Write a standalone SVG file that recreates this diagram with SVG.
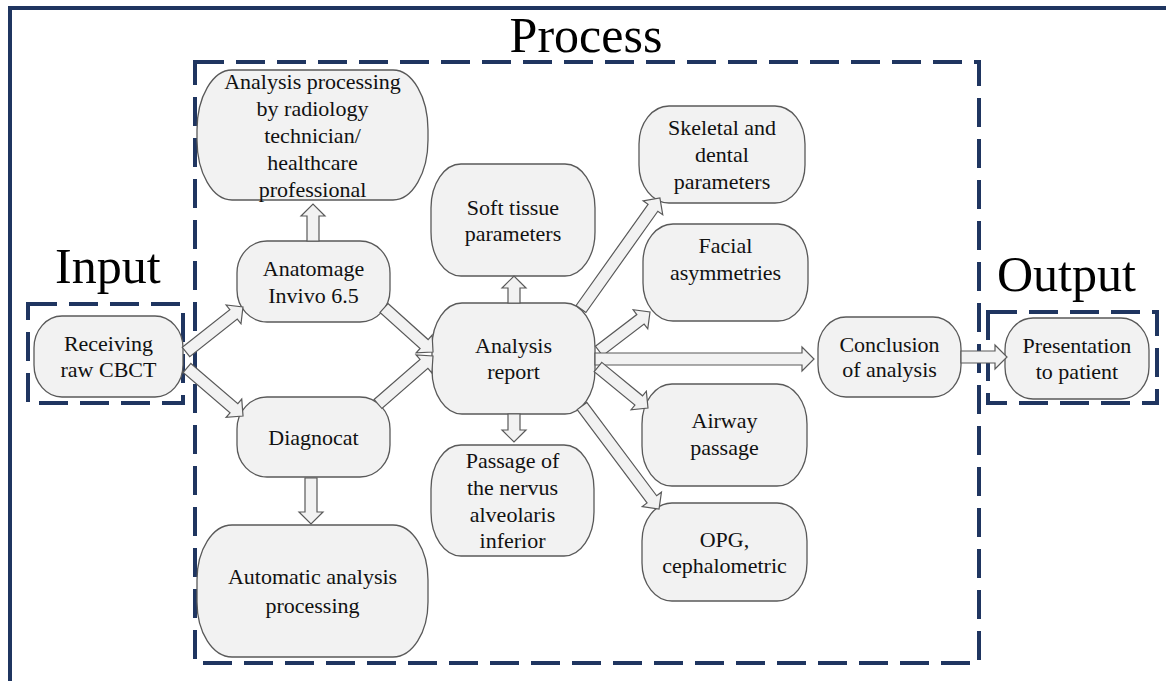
<svg xmlns="http://www.w3.org/2000/svg" width="1166" height="681" viewBox="0 0 1166 681">
<defs>
<style>
.frame{fill:none;stroke:#1f3560;stroke-width:4}
.dash{fill:none;stroke:#1f3560;stroke-width:4;stroke-dasharray:29 12}
.node{fill:#f2f2f2;stroke:#595959;stroke-width:1.3}
.arr{fill:#f2f2f2;stroke:#595959;stroke-width:1.2;stroke-linejoin:miter}
</style>
</defs>
<rect width="1166" height="681" fill="#fff"/>
<g id="frames">
<rect class="frame" x="10" y="8" width="1200" height="700"/>
<rect class="dash" x="195" y="62" width="784" height="601"/>
<rect class="dash" x="28" y="304" width="155" height="99"/>
<rect class="dash" x="988" y="312" width="169" height="91"/>
<g font-family="'Liberation Serif', 'Times New Roman', serif" font-size="50" fill="#000">
<text x="586" y="52" text-anchor="middle">Process</text>
<text x="55" y="283">Input</text>
<text x="997" y="291">Output</text>
</g>
</g>
<g font-family="'Liberation Serif', 'Times New Roman', serif" font-size="22" fill="#111" text-anchor="middle">
<g id="n-manual"><rect class="node" x="197" y="70" width="231" height="130" rx="35" ry="60"/>
<text x="312.5" y="89">Analysis processing</text><text x="312.5" y="116">by radiology</text><text x="312.5" y="143">technician/</text><text x="312.5" y="170">healthcare</text><text x="312.5" y="197">professional</text></g>
<g id="n-anatomage"><rect class="node" x="237" y="241" width="153" height="81" rx="30" ry="32"/>
<text x="313.5" y="276">Anatomage</text><text x="313.5" y="303">Invivo 6.5</text></g>
<g id="n-diagnocat"><rect class="node" x="237" y="397" width="153" height="80" rx="30" ry="32"/>
<text x="313.5" y="445">Diagnocat</text></g>
<g id="n-automatic"><rect class="node" x="197" y="525" width="231" height="132" rx="35" ry="55"/>
<text x="312.5" y="584">Automatic analysis</text><text x="312.5" y="613">processing</text></g>
<g id="n-receiving"><rect class="node" x="34" y="316" width="149" height="81" rx="28" ry="32"/>
<text x="108.5" y="351">Receiving</text><text x="108.5" y="377">raw CBCT</text></g>
<g id="n-report"><rect class="node" x="432" y="303" width="163" height="111" rx="30" ry="44"/>
<text x="513.5" y="353">Analysis</text><text x="513.5" y="379">report</text></g>
<g id="n-soft"><rect class="node" x="431" y="164" width="164" height="112" rx="30" ry="44"/>
<text x="513" y="215">Soft tissue</text><text x="513" y="241">parameters</text></g>
<g id="n-nerve"><rect class="node" x="431" y="445" width="163" height="111" rx="30" ry="44"/>
<text x="512.5" y="468">Passage of</text><text x="512.5" y="495">the nervus</text><text x="512.5" y="522">alveolaris</text><text x="512.5" y="548">inferior</text></g>
<g id="n-skeletal"><rect class="node" x="639" y="106" width="166" height="97" rx="30" ry="38"/>
<text x="722" y="135">Skeletal and</text><text x="722" y="162">dental</text><text x="722" y="189">parameters</text></g>
<g id="n-facial"><rect class="node" x="643" y="224" width="165" height="97" rx="30" ry="38"/>
<text x="725.5" y="253">Facial</text><text x="725.5" y="280">asymmetries</text></g>
<g id="n-airway"><rect class="node" x="642" y="384" width="165" height="102" rx="30" ry="40"/>
<text x="724.5" y="428">Airway</text><text x="724.5" y="455">passage</text></g>
<g id="n-opg"><rect class="node" x="642" y="503" width="165" height="98" rx="30" ry="38"/>
<text x="724.5" y="547">OPG,</text><text x="724.5" y="573">cephalometric</text></g>
<g id="n-conclusion"><rect class="node" x="818" y="317" width="143" height="80" rx="28" ry="32"/>
<text x="889.5" y="352">Conclusion</text><text x="889.5" y="377">of analysis</text></g>
<g id="n-presentation"><rect class="node" x="1005" y="318" width="144" height="81" rx="28" ry="32"/>
<text x="1077" y="353">Presentation</text><text x="1077" y="379">to patient</text></g>
</g>
<g id="connectors">
<polygon class="arr" transform="translate(186,352) rotate(-38.3)" points="0,-6 60.6,-6 60.6,-12 72.6,0 60.6,12 60.6,6 0,6"/>
<polygon class="arr" transform="translate(187,368) rotate(40.6)" points="0,-6 61.8,-6 61.8,-12 73.8,0 61.8,12 61.8,6 0,6"/>
<polygon class="arr" transform="translate(313,241) rotate(-90)" points="0,-6 25,-6 25,-12 37,0 25,12 25,6 0,6"/>
<polygon class="arr" transform="translate(384,308) rotate(41.9)" points="0,-6 53.9,-6 53.9,-12 65.9,0 53.9,12 53.9,6 0,6"/>
<polygon class="arr" transform="translate(378,404) rotate(-41.1)" points="0,-6 61,-6 61,-12 73,0 61,12 61,6 0,6"/>
<polygon class="arr" transform="translate(311,478) rotate(90)" points="0,-6 34,-6 34,-12 46,0 34,12 34,6 0,6"/>
<polygon class="arr" transform="translate(514,303) rotate(-90)" points="0,-6 15,-6 15,-12 27,0 15,12 15,6 0,6"/>
<polygon class="arr" transform="translate(514,414) rotate(90)" points="0,-6 16,-6 16,-12 28,0 16,12 16,6 0,6"/>
<polygon class="arr" transform="translate(581,309) rotate(-54.6)" points="0,-6 124.2,-6 124.2,-12 136.2,0 124.2,12 124.2,6 0,6"/>
<polygon class="arr" transform="translate(599,351) rotate(-37.4)" points="0,-6 52.2,-6 52.2,-12 64.2,0 52.2,12 52.2,6 0,6"/>
<polygon class="arr" transform="translate(595,359)" points="0,-6 207,-6 207,-12 219,0 207,12 207,6 0,6"/>
<polygon class="arr" transform="translate(598,367) rotate(39.4)" points="0,-6 52.7,-6 52.7,-12 64.7,0 52.7,12 52.7,6 0,6"/>
<polygon class="arr" transform="translate(582,406) rotate(53.2)" points="0,-6 116.6,-6 116.6,-12 128.6,0 116.6,12 116.6,6 0,6"/>
<polygon class="arr" transform="translate(961,357)" points="0,-6 34,-6 34,-12 46,0 34,12 34,6 0,6"/>
</g>
</svg>
